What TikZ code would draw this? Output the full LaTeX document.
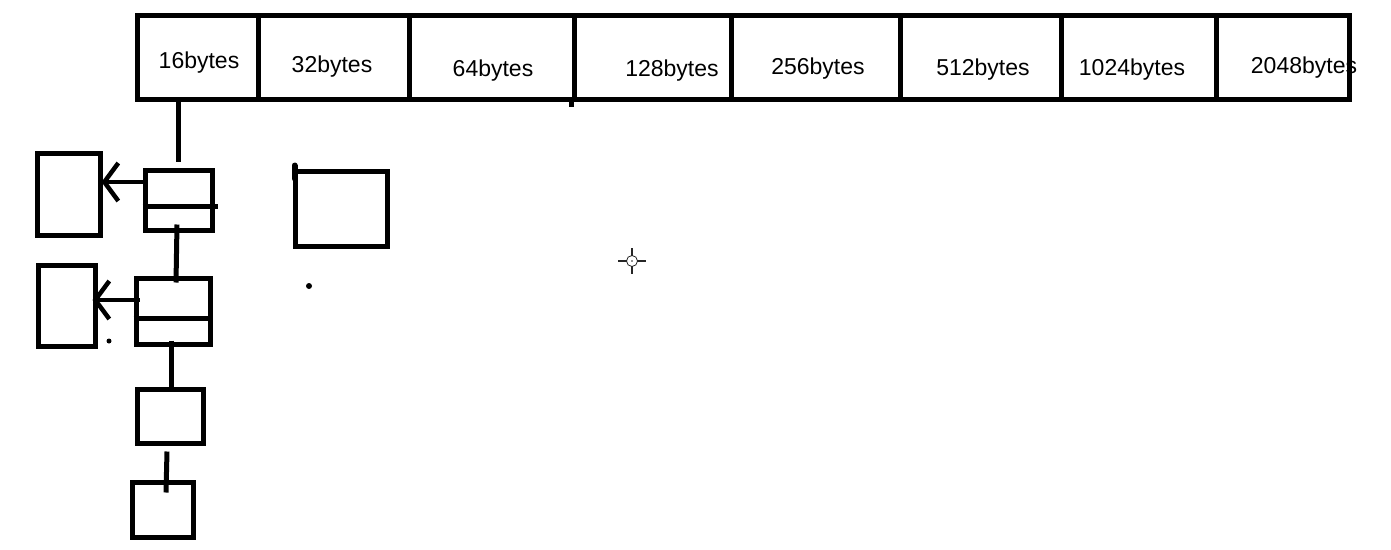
\documentclass[tikz,border=0pt]{standalone}
\usepackage{fontspec}
\setmainfont{Liberation Sans}
\usetikzlibrary{arrows.meta}
\begin{document}
\begin{tikzpicture}[
              x=1pt, y=-1pt,
              cell/.style={draw, line width=5pt, minimum height=84pt, inner sep=0pt},
              sizelabel/.style={font=\fontsize{23}{25}\selectfont, inner sep=0pt},
              block/.style={draw, line width=5pt, inner sep=0pt},
              link/.style={line width=5pt},
              ptr/.style={line width=4.5pt, -{Straight Barb[length=14pt,width=38pt,line width=4.5pt]}},
              cursor/.style={line width=1.3pt, gray!30!black}
            ]
            \useasboundingbox (0,0) rectangle (1391,549);

            % Free list heads
            \foreach \l/\r/\n in {137/258/16, 258/409/32, 409/574/64, 574/731/128,
                                  731/900/256, 900/1061/512, 1061/1216/1024, 1216/1349/2048}
              \node[cell, minimum width={(\r-\l)*1pt}] (c\n) at ({(\l+\r)/2},57) {};
            \draw[link] (c128.south west) -- ++(0,5);

            \node[sizelabel] (t16) at (199,63) {16bytes};
            \node[sizelabel] (t32) at (332,67) {32bytes};
            \node[sizelabel] (t64) at (493,71) {64bytes};
            \node[sizelabel] (t128) at (672,71) {128bytes};
            \node[sizelabel] (t256) at (818,69) {256bytes};
            \node[sizelabel] (t512) at (983,70) {512bytes};
            \node[sizelabel] (t1024) at (1132,70) {1024bytes};
            \node[sizelabel] (t2048) at (1304,68) {2048bytes};

            % Chain of 16 byte blocks
            \node[block, minimum width=67pt, minimum height=60pt] (a1) at (178.5,200) {};
            \draw[link] ([yshift=-6pt]a1.west) -- ([xshift=3pt,yshift=-6pt]a1.east);
            \node[block, minimum width=74pt, minimum height=66pt] (b1) at (173,311) {};
            \draw[link] ([yshift=-7pt]b1.west) -- ([yshift=-7pt]b1.east);
            \node[block, minimum width=66pt, minimum height=54pt] (c1) at (170,416) {};
            \node[block, minimum width=61pt, minimum height=55pt] (d1) at (162.5,509.5) {};

            \draw[link] (c16.south -| a1.north) -- ([yshift=6pt]a1.north);
            \draw[link] ([xshift=-1.5pt,yshift=8pt]a1.south) -- ([xshift=3pt,yshift=-7pt]b1.north);
            \draw[link] ([xshift=-2pt,yshift=6pt]b1.south) -- ([xshift=1pt]c1.north);
            \draw[link] ([xshift=-3pt,yshift=-6pt]c1.south) -- ([xshift=3.5pt,yshift=-13pt]d1.north);

            % Memory pointed to
            \node[block, minimum width=63pt, minimum height=82pt] (l1) at (68.5,194) {};
            \node[block, minimum width=57pt, minimum height=81pt] (l2) at (66.5,305.5) {};
            \draw[ptr] ([yshift=18pt]a1.west) -- ([xshift=-1pt,yshift=12pt]l1.east);
            \draw[ptr] ([xshift=6pt,yshift=11pt]b1.west) -- ([xshift=-5pt,yshift=5.5pt]l2.east);

            % Lone block
            \node[block, minimum width=92pt, minimum height=75pt] (e1) at (341,208.5) {};
            \draw[line width=6pt, line cap=round] ([xshift=2pt,yshift=3pt]e1.north west) -- ([xshift=2pt,yshift=-10pt]e1.north west);

            % Stray dots
            \fill (309,286) circle (3pt);
            \fill (109,341) circle (2.5pt);

            % Cursor
            \draw[cursor] (632,248) -- (632,256) (632,266) -- (632,274)
                          (618,261) -- (627,261) (637,261) -- (646,261);
            \draw[cursor, line width=0.8pt] (632,261) circle (5.5pt);
            \fill[gray!30!black] (632,261) circle (0.8pt);
            
\end{tikzpicture}
\end{document}
